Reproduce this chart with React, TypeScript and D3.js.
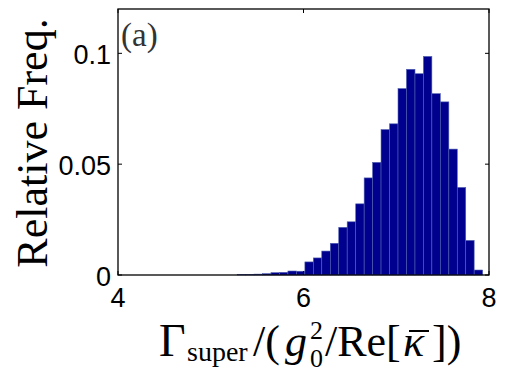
import * as d3 from 'd3'

// histogram bin edges (Γ_super units) and relative frequencies
const binEdges = [
  5.285, 5.376, 5.467, 5.559, 5.65, 5.741, 5.832, 5.924, 6.015, 6.106, 6.197, 6.289, 6.38, 6.471, 6.563,
  6.654, 6.745, 6.836, 6.928, 7.019, 7.11, 7.202, 7.293, 7.384, 7.475, 7.567, 7.658, 7.749, 7.84, 7.932,
]
const relFreq = [
  0.0002, 0.0003, 0.0004, 0.0006, 0.00105, 0.0012, 0.0018, 0.0017, 0.0059, 0.0077, 0.0108, 0.0143, 0.0215,
  0.024, 0.0321, 0.0438, 0.0508, 0.0656, 0.0682, 0.0841, 0.0928, 0.0908, 0.0986, 0.0818, 0.0781, 0.0568,
  0.0395, 0.0156, 0.00225,
]
const xTicks = [4, 6, 8]
const yTicks = [0, 0.05, 0.1]
const yTickLabels = ['0', '0.05', '0.1']

export default function App() {
  const width = 509
  const height = 375
  const plot = { left: 118, right: 489, top: 9, bottom: 275 }

  const x = d3.scaleLinear().domain([4, 8]).range([plot.left, plot.right])
  const y = d3.scaleLinear().domain([0, 0.12]).range([plot.bottom, plot.top])

  const tickLen = 4
  const sans = "'Liberation Sans', Arial, sans-serif"
  const serif = "'Liberation Serif', 'Times New Roman', serif"

  // pieces of the x label, placed one by one like the TeX rendering
  const lbl = { fontFamily: serif, fill: '#000' }
  const base = 356

  return (
    <svg width={width} height={height} style={{ position: 'absolute', left: 0, top: 0, background: '#fff' }}>
      {relFreq.map((v, i) => (
        <rect
          key={i}
          x={x(binEdges[i])}
          y={y(v)}
          width={x(binEdges[i + 1]) - x(binEdges[i])}
          height={y(0) - y(v)}
          fill="#00008f"
          stroke="#5060b0"
          strokeWidth={0.6}
        />
      ))}

      <rect
        x={plot.left}
        y={plot.top}
        width={plot.right - plot.left}
        height={plot.bottom - plot.top}
        fill="none"
        stroke="#000"
        strokeWidth={1.3}
      />

      {xTicks.map((t) => (
        <g key={`x${t}`}>
          <line x1={x(t)} x2={x(t)} y1={plot.bottom} y2={plot.bottom - tickLen} stroke="#000" />
          <line x1={x(t)} x2={x(t)} y1={plot.top} y2={plot.top + tickLen} stroke="#000" />
          <text x={x(t)} y={307} textAnchor="middle" fontFamily={sans} fontSize={27} fill="#000">
            {t}
          </text>
        </g>
      ))}

      {yTicks.map((t, i) => (
        <g key={`y${t}`}>
          <line x1={plot.left} x2={plot.left + tickLen} y1={y(t)} y2={y(t)} stroke="#000" />
          <line x1={plot.right} x2={plot.right - tickLen} y1={y(t)} y2={y(t)} stroke="#000" />
          <text x={111} y={y(t) + 11} textAnchor="end" fontFamily={sans} fontSize={27} fill="#000">
            {yTickLabels[i]}
          </text>
        </g>
      ))}

      <text x={121} y={46} fontFamily={serif} fontSize={33} fill="#333">
        (a)
      </text>

      <text
        transform="translate(47, 143) rotate(-90)"
        textAnchor="middle"
        fontFamily={serif}
        fontSize={44}
        fill="#000"
      >
        Relative Freq.
      </text>

      <g {...lbl}>
        <text x={159} y={base} fontSize={46}>Γ</text>
        <text x={187} y={361} fontSize={28}>super</text>
        <text x={253} y={base} fontSize={44}>/(</text>
        <text x={285} y={base} fontSize={44} fontStyle="italic">g</text>
        <text x={310} y={339} fontSize={26}>2</text>
        <text x={310} y={367} fontSize={26}>0</text>
        <text x={325} y={base} fontSize={44}>/Re[</text>
        <text x={403} y={base} fontSize={44} fontStyle="italic">κ</text>
        <line x1={409} x2={429} y1={331} y2={331} stroke="#000" strokeWidth={2} />
        <text x={432} y={base} fontSize={44}>])</text>
      </g>
    </svg>
  )
}
